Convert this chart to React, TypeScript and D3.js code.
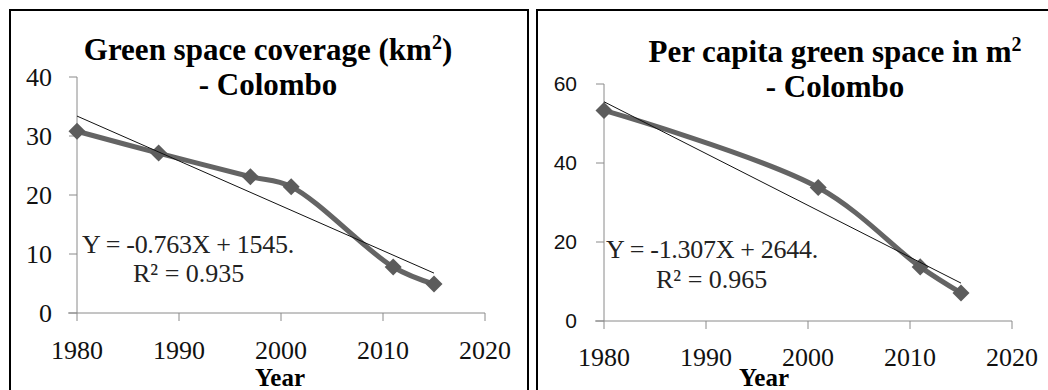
import React from 'react';
import * as d3 from 'd3';

// values
const coverageYears = [1980, 1988, 1997, 2001, 2011, 2015];
const coverageKm2 = [30.8, 27.1, 23.1, 21.4, 7.8, 4.9];
const perCapitaYears = [1980, 2001, 2011, 2015];
const perCapitaM2 = [53.3, 33.8, 13.7, 7.1];
const yearTicks = [1980, 1990, 2000, 2010, 2020];
const coverageTicks = [0, 10, 20, 30, 40];
const perCapitaTicks = [0, 20, 40, 60];

const SERIF = '"Liberation Serif", "Times New Roman", serif';
const SANS = '"Liberation Sans", Arial, sans-serif';

function fit(xs: number[], ys: number[]) {
  const mx = d3.mean(xs) as number;
  const my = d3.mean(ys) as number;
  const sxy = d3.sum(xs, (x, i) => (x - mx) * (ys[i] - my));
  const sxx = d3.sum(xs, x => (x - mx) * (x - mx));
  const slope = sxy / sxx;
  return (x: number) => my + slope * (x - mx);
}

type PanelProps = {
  years: number[];
  values: number[];
  yTicks: number[];
  xRange: [number, number];
  yRange: [number, number];
  yFont: string;
  yFontSize: number;
  yLabelGap: number;
  xLabelY: number;
  yearLabel: [number, number];
  title: React.ReactNode;
  titleX: number;
  titleY: number;
  eq: string;
  r2: string;
  eqPos: [number, number];
  r2Pos: [number, number];
};

function Panel(p: PanelProps) {
  const x = d3.scaleLinear().domain([1980, 2020]).range(p.xRange);
  const y = d3
    .scaleLinear()
    .domain([0, d3.max(p.yTicks) as number])
    .range(p.yRange);
  const pts = p.years.map((yr, i) => [yr, p.values[i]] as [number, number]);
  const line = d3
    .line<[number, number]>()
    .x(d => x(d[0]))
    .y(d => y(d[1]))
    .curve(d3.curveCatmullRom.alpha(0.5));
  const trend = fit(p.years, p.values);
  const first = p.years[0];
  const last = p.years[p.years.length - 1];
  const marker = d3.symbol(d3.symbolSquare, 145)() as string;
  const x0 = x(1980);
  const y0 = y(0);

  return (
    <g>
      <line x1={x0 - 9} x2={x(2020)} y1={y0} y2={y0} stroke="#8a8a8a" />
      <line x1={x0} x2={x0} y1={y(d3.max(p.yTicks) as number)} y2={y0} stroke="#8a8a8a" />
      {p.yTicks.map(t => (
        <g key={'y' + t}>
          <line x1={x0 - 8} x2={x0} y1={y(t)} y2={y(t)} stroke="#8a8a8a" />
          <text
            x={x0 - p.yLabelGap}
            y={y(t)}
            dy="0.35em"
            textAnchor="end"
            fontFamily={p.yFont}
            fontSize={p.yFontSize}
            fill="#111"
          >
            {t}
          </text>
        </g>
      ))}
      {yearTicks.map(t => (
        <g key={'x' + t}>
          <line x1={x(t)} x2={x(t)} y1={y0} y2={y0 + 8} stroke="#8a8a8a" />
          <text x={x(t)} y={p.xLabelY} textAnchor="middle" fontFamily={SERIF} fontSize={26} fill="#111">
            {t}
          </text>
        </g>
      ))}
      <path d={line(pts) as string} fill="none" stroke="#646464" strokeWidth={5} />
      {pts.map(d => (
        <path
          key={d[0]}
          d={marker}
          transform={`translate(${x(d[0])},${y(d[1])}) rotate(45)`}
          fill="#5c5c5c"
        />
      ))}
      <line
        x1={x(first)}
        y1={y(trend(first))}
        x2={x(last)}
        y2={y(trend(last))}
        stroke="#111"
        strokeWidth={1}
      />
      <text x={p.titleX} y={p.titleY} textAnchor="middle" fontFamily={SERIF} fontWeight="bold" fontSize={31}>
        {p.title}
      </text>
      <text x={p.titleX} y={p.titleY + 35} textAnchor="middle" fontFamily={SERIF} fontWeight="bold" fontSize={31}>
        - Colombo
      </text>
      <text x={p.eqPos[0]} y={p.eqPos[1]} fontFamily={SERIF} fontSize={26} fill="#222" letterSpacing={-0.3}>
        {p.eq}
      </text>
      <text x={p.r2Pos[0]} y={p.r2Pos[1]} fontFamily={SERIF} fontSize={26} fill="#222">
        {p.r2}
      </text>
      <text
        x={p.yearLabel[0]}
        y={p.yearLabel[1]}
        textAnchor="middle"
        fontFamily={SERIF}
        fontWeight="bold"
        fontSize={25}
      >
        Year
      </text>
    </g>
  );
}

export default function App() {
  return (
    <svg
      width={1048}
      height={390}
      style={{ position: 'absolute', left: 0, top: 0, background: '#fff' }}
    >
      <rect x={10} y={10} width={518} height={400} fill="none" stroke="#000" strokeWidth={2} />
      <rect x={537} y={10} width={520} height={400} fill="none" stroke="#000" strokeWidth={2} />
      <Panel
        years={coverageYears}
        values={coverageKm2}
        yTicks={coverageTicks}
        xRange={[77, 485]}
        yRange={[313, 77]}
        yFont={SERIF}
        yFontSize={26}
        yLabelGap={25}
        xLabelY={359}
        yearLabel={[280, 386]}
        title={
          <>
            Green space coverage (km<tspan dy={-11} fontSize={20}>2</tspan>
            <tspan dy={11}>)</tspan>
          </>
        }
        titleX={268}
        titleY={60}
        eq="Y = -0.763X + 1545."
        r2="R² = 0.935"
        eqPos={[82, 253]}
        r2Pos={[133, 282]}
      />
      <Panel
        years={perCapitaYears}
        values={perCapitaM2}
        yTicks={perCapitaTicks}
        xRange={[604, 1012]}
        yRange={[321, 84]}
        yFont={SANS}
        yFontSize={21}
        yLabelGap={27}
        xLabelY={366}
        yearLabel={[764, 386]}
        title={
          <>
            Per capita green space in m<tspan dy={-11} fontSize={20}>2</tspan>
          </>
        }
        titleX={835}
        titleY={62}
        eq="Y = -1.307X + 2644."
        r2="R² = 0.965"
        eqPos={[606, 258]}
        r2Pos={[656, 288]}
      />
    </svg>
  );
}
